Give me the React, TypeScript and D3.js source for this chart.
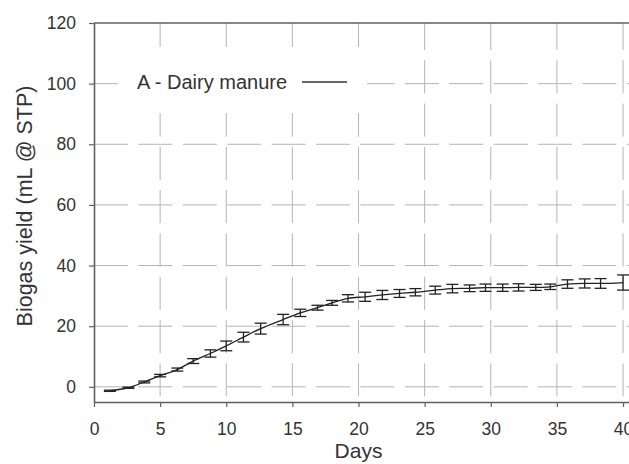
import React, { useEffect, useRef } from 'react';
import * as d3 from 'd3';

// sampling days and mean biogas yield (mL @ STP), with +/- error
const days = [1.2, 2.6, 3.8, 5.0, 6.3, 7.5, 8.8, 10.0, 11.3, 12.6, 14.3, 15.6, 16.9, 18.0, 19.2, 20.5,
  21.8, 23.1, 24.3, 25.8, 27.1, 28.4, 29.6, 30.9, 32.1, 33.4, 34.5, 35.8, 37.1, 38.3, 40.0];
const yieldValues = [-1.3, -0.3, 1.6, 3.7, 5.7, 8.5, 11.0, 13.5, 16.4, 19.2, 22.2, 24.4, 26.1, 27.7, 29.2, 29.7,
  30.3, 30.8, 31.2, 31.9, 32.4, 32.5, 32.7, 32.7, 32.8, 32.8, 33.0, 33.9, 34.1, 34.1, 34.4];
const yieldErrors = [0.2, 0.2, 0.3, 0.4, 0.5, 0.8, 1.2, 1.6, 1.6, 1.8, 1.7, 1.2, 0.8, 0.8, 1.2, 1.5,
  1.5, 1.3, 1.2, 1.3, 1.4, 1.1, 1.2, 1.2, 1.2, 1.0, 0.9, 1.4, 1.5, 1.6, 2.5];

const xTicks = [0, 5, 10, 15, 20, 25, 30, 35, 40];
const yTicks = [0, 20, 40, 60, 80, 100, 120];
const seriesName = 'A - Dairy manure';

const W = 629;
const H = 464;
const FONT = '"Liberation Sans", Arial, Helvetica, sans-serif';

const App = () => {
  const ref = useRef<SVGSVGElement>(null);

  useEffect(() => {
    document.body.style.margin = '0';
    const svg = d3.select(ref.current);
    svg.selectAll('*').remove();

    const x = d3.scaleLinear().domain([0, 40.45]).range([94, 629]);
    const y = d3.scaleLinear().domain([-5, 120]).range([402, 23]);

    const grid = svg.append('g');
    // vertical dashed grid
    grid.selectAll('.vg')
      .data(xTicks.filter(t => t > 0))
      .enter()
      .append('line')
      .attr('x1', d => x(d)).attr('x2', d => x(d))
      .attr('y1', y(120)).attr('y2', y(-5))
      .attr('stroke', '#b4b4b4')
      .attr('stroke-width', 1)
      .attr('stroke-dasharray', '33,10.3')
      .attr('stroke-dashoffset', 6);
    // horizontal dashed grid
    grid.selectAll('.hg')
      .data(yTicks.filter(t => t < 120))
      .enter()
      .append('line')
      .attr('x1', x(0)).attr('x2', W)
      .attr('y1', d => y(d)).attr('y2', d => y(d))
      .attr('stroke', '#b4b4b4')
      .attr('stroke-width', 1)
      .attr('stroke-dasharray', '34,10.4');

    // top frame line
    svg.append('line')
      .attr('x1', x(0)).attr('x2', W)
      .attr('y1', y(120)).attr('y2', y(120))
      .attr('stroke', '#606060').attr('stroke-width', 1.6);

    // axes
    const xAxis = svg.append('g')
      .attr('transform', `translate(0,${y(-5)})`)
      .call(d3.axisBottom(x).tickValues(xTicks).tickSize(5).tickPadding(16).tickSizeOuter(0));
    const yAxis = svg.append('g')
      .attr('transform', `translate(${x(0)},0)`)
      .call(d3.axisLeft(y).tickValues(yTicks).tickSize(5).tickPadding(13).tickSizeOuter(0));

    [xAxis, yAxis].forEach(ax => {
      ax.select('.domain').attr('stroke', '#606060').attr('stroke-width', 1.6);
      ax.selectAll('.tick line').attr('stroke', '#606060').attr('stroke-width', 1.2);
      ax.selectAll('.tick text')
        .attr('fill', '#333')
        .style('font-family', FONT)
        .style('font-size', '17.5px');
    });

    // legend box
    const lg = svg.append('g');
    lg.append('rect')
      .attr('x', 118).attr('y', 47).attr('width', 249).attr('height', 66)
      .attr('fill', 'white');
    lg.append('text')
      .attr('x', 137).attr('y', 88.5)
      .text(seriesName)
      .attr('fill', '#333')
      .style('font-family', FONT)
      .style('font-size', '20px');
    lg.append('line')
      .attr('x1', 302).attr('x2', 347)
      .attr('y1', 82).attr('y2', 82)
      .attr('stroke', '#333').attr('stroke-width', 1.4);

    const pts = days.map((d, i) => ({ d, v: yieldValues[i], e: yieldErrors[i] }));

    // line
    const line = d3.line<{ d: number; v: number }>()
      .x(p => x(p.d)).y(p => y(p.v))
      .curve(d3.curveMonotoneX);
    svg.append('path')
      .datum(pts)
      .attr('d', line)
      .attr('fill', 'none')
      .attr('stroke', '#222')
      .attr('stroke-width', 1.3);

    // error bars
    const eb = svg.append('g').attr('stroke', '#222').attr('stroke-width', 1.3);
    const cap = 6;
    eb.selectAll('.ev').data(pts).enter().append('line')
      .attr('x1', p => x(p.d)).attr('x2', p => x(p.d))
      .attr('y1', p => y(p.v - p.e)).attr('y2', p => y(p.v + p.e));
    eb.selectAll('.et').data(pts).enter().append('line')
      .attr('x1', p => x(p.d) - cap).attr('x2', p => x(p.d) + cap)
      .attr('y1', p => y(p.v + p.e)).attr('y2', p => y(p.v + p.e));
    eb.selectAll('.eb').data(pts).enter().append('line')
      .attr('x1', p => x(p.d) - cap).attr('x2', p => x(p.d) + cap)
      .attr('y1', p => y(p.v - p.e)).attr('y2', p => y(p.v - p.e));

    // axis titles
    svg.append('text')
      .attr('x', (94 + 623) / 2).attr('y', 458)
      .attr('text-anchor', 'middle')
      .text('Days')
      .attr('fill', '#333')
      .style('font-family', FONT)
      .style('font-size', '21px');
    svg.append('text')
      .attr('transform', `translate(31.5,206) rotate(-90)`)
      .attr('text-anchor', 'middle')
      .text('Biogas yield (mL @ STP)')
      .attr('fill', '#333')
      .style('font-family', FONT)
      .style('font-size', '21.5px');
  }, []);

  return (
    <div style={{ width: W, height: H, background: 'white' }}>
      <svg ref={ref} width={W} height={H} style={{ display: 'block' }}></svg>
    </div>
  );
};

export default App;
